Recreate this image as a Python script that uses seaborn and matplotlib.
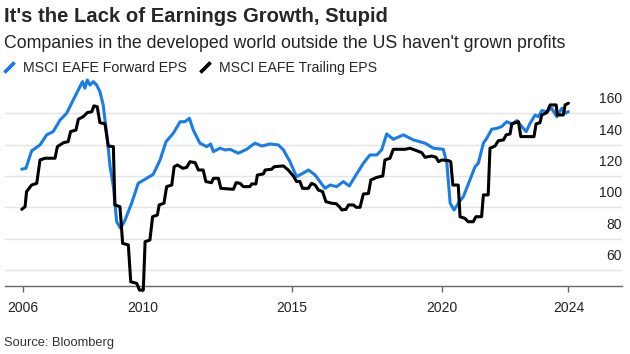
import numpy as np
import pandas as pd
import matplotlib
matplotlib.use('Agg')
import matplotlib.pyplot as plt
import matplotlib.transforms as mtransforms
from matplotlib.lines import Line2D
import seaborn as sns

# values (decimal years, EPS)
fwd_t = [2005.97, 2006.11, 2006.30, 2006.58, 2006.80, 2007.02, 2007.25, 2007.47, 2007.69, 2007.86,
         2008.00, 2008.08, 2008.16, 2008.25, 2008.36, 2008.47, 2008.58, 2008.69, 2008.75, 2008.83,
         2008.92, 2009.03, 2009.14, 2009.27,
         2009.42, 2009.64, 2009.86, 2010.14, 2010.36, 2010.59, 2010.79, 2011.03, 2011.26, 2011.42,
         2011.57, 2011.70, 2011.92, 2012.15, 2012.28, 2012.37, 2012.59, 2012.76, 2012.93, 2013.20,
         2013.48, 2013.76, 2013.99, 2014.26, 2014.54, 2014.71, 2014.93, 2015.15, 2015.32, 2015.55,
         2015.77, 2015.93, 2016.10, 2016.27, 2016.49, 2016.71, 2016.91, 2017.10, 2017.38, 2017.60,
         2017.83, 2017.99, 2018.16, 2018.38, 2018.72, 2019.05, 2019.44, 2019.72, 2020.05, 2020.17,
         2020.28, 2020.41, 2020.59, 2020.72, 2020.94, 2021.11, 2021.22, 2021.39, 2021.50, 2021.67,
         2021.84, 2022.00, 2022.17, 2022.34, 2022.51, 2022.67, 2022.82, 2022.95, 2023.12, 2023.23,
         2023.34, 2023.51, 2023.67, 2023.84, 2024.01, 2024.12, 2024.23]
fwd_v = [124.3, 124.9, 136.0, 139.8, 146.2, 148.3, 155.7, 160.0, 168.5, 174.9,
         180.2, 176.0, 181.2, 178.0, 180.2, 178.0, 173.8, 165.3, 155.7, 143.0,
         126.0, 113.2, 90.8, 86.6,
         91.9, 102.6, 115.3, 118.5, 121.0, 130.2, 141.9, 147.2, 154.6, 154.6,
         156.8, 149.3, 140.9, 138.7, 140.4, 135.5, 137.7, 136.6, 137.0, 134.5,
         137.0, 140.9, 139.1, 140.4, 139.8, 136.6, 129.1, 119.5, 121.3, 123.8,
         120.6, 116.4, 112.1, 114.2, 113.2, 116.4, 113.6, 119.5, 128.1, 133.4,
         133.4, 136.6, 146.8, 143.4, 146.2, 143.0, 140.9, 137.7, 137.0, 128.1,
         102.6, 98.3, 103.6, 106.8, 117.4, 125.9, 128.1, 140.9, 144.0, 149.8,
         150.4, 151.5, 154.6, 153.2, 155.3, 151.5, 148.3, 153.6, 158.9, 157.8,
         161.7, 161.0, 163.2, 157.8, 163.2, 160.0, 161.0]

trl_t = [2005.97, 2006.08, 2006.13, 2006.30, 2006.47, 2006.58, 2006.75, 2007.08, 2007.16, 2007.36,
         2007.52, 2007.60, 2007.78, 2007.86, 2008.02, 2008.16, 2008.31, 2008.38, 2008.49, 2008.58,
         2008.75, 2008.86, 2009.03, 2009.08, 2009.25, 2009.34, 2009.53, 2009.61, 2009.81, 2009.90,
         2010.03, 2010.09, 2010.25, 2010.34, 2010.50, 2010.56, 2010.72, 2010.81, 2010.98, 2011.06,
         2011.17, 2011.35, 2011.48, 2011.59, 2011.76, 2011.87, 2012.03, 2012.12, 2012.31, 2012.37,
         2012.54, 2012.62, 2013.04, 2013.13, 2013.26, 2013.37, 2013.59, 2013.65, 2013.79, 2013.84,
         2014.04, 2014.10, 2014.32, 2014.40, 2014.71, 2014.87, 2015.04, 2015.15, 2015.26, 2015.35,
         2015.54, 2015.65, 2015.77, 2015.88, 2016.02, 2016.13, 2016.32, 2016.47, 2016.58, 2016.66,
         2016.80, 2016.88, 2017.05, 2017.14, 2017.27, 2017.38, 2017.55, 2017.63, 2017.83, 2018.03,
         2018.10, 2018.27, 2018.38, 2018.77, 2018.94, 2019.16, 2019.33, 2019.44, 2019.67, 2019.81,
         2019.89, 2020.00, 2020.22, 2020.30, 2020.37, 2020.55, 2020.61, 2020.77, 2020.88, 2021.05,
         2021.14, 2021.33, 2021.39, 2021.55, 2021.61, 2021.78, 2021.89, 2022.06, 2022.15, 2022.28,
         2022.34, 2022.56, 2022.64, 2023.08, 2023.15, 2023.28, 2023.34, 2023.51, 2023.62, 2023.82,
         2023.86, 2024.06, 2024.12, 2024.23]
trl_v = [98.7, 100.4, 110.0, 114.2, 115.3, 130.2, 131.3, 131.3, 138.7, 141.2,
         141.9, 148.3, 149.3, 156.2, 157.8, 160.4, 161.0, 164.7, 164.2, 154.0,
         153.2, 139.1, 138.7, 101.5, 100.4, 77.0, 76.0, 52.5, 51.5, 47.2,
         47.2, 78.1, 79.1, 94.0, 95.1, 101.5, 102.6, 113.2, 114.2, 125.9,
         127.0, 124.9, 125.5, 129.1, 128.5, 123.8, 123.8, 116.4, 115.7, 118.5,
         118.5, 112.1, 111.5, 115.7, 115.3, 113.2, 113.2, 114.9, 114.9, 120.6,
         121.3, 123.8, 124.3, 125.9, 126.4, 123.8, 120.0, 116.4, 116.5, 112.1,
         112.1, 115.3, 114.2, 111.0, 110.0, 103.6, 102.6, 102.3, 100.4, 98.3,
         98.7, 101.5, 101.5, 100.0, 100.0, 108.5, 108.8, 117.4, 119.1, 120.0,
         130.2, 131.3, 137.0, 137.0, 137.7, 136.1, 134.9, 131.9, 132.7, 131.9,
         129.1, 130.2, 129.8, 129.1, 114.2, 114.2, 94.0, 93.0, 90.8, 90.8,
         94.0, 94.0, 107.9, 107.9, 137.7, 139.1, 142.5, 143.0, 146.2, 146.8,
         153.2, 154.6, 145.1, 145.1, 153.2, 154.0, 158.9, 160.4, 165.3, 165.3,
         158.9, 158.9, 165.3, 166.4]

y_ticks = [60, 80, 100, 120, 140, 160]
x_tick_years = [2006, 2010, 2015, 2020, 2024]
series_names = ['MSCI EAFE Forward EPS', 'MSCI EAFE Trailing EPS']

blue = '#1a7ce8'
black = '#000000'

sns.set_theme(style='white')
plt.rcParams['font.family'] = ['Liberation Sans', 'DejaVu Sans']

fig = plt.figure(figsize=(6.3, 3.54), dpi=100)
ax = fig.add_axes([5 / 630, 68 / 354, 617 / 630, 211 / 354])

fwd = pd.DataFrame({'t': fwd_t, 'eps': fwd_v})
trl = pd.DataFrame({'t': trl_t, 'eps': trl_v})

sns.lineplot(data=fwd, x='t', y='eps', ax=ax, color=blue, lw=2.2,
             sort=False, estimator=None, zorder=3)
sns.lineplot(data=trl, x='t', y='eps', ax=ax, color=black, lw=2.2,
             sort=False, estimator=None, zorder=4, clip_on=False)

ax.set_xlim(2005.41, 2026.02)
ax.set_ylim(49.8, 184.4)
ax.set_xlabel('')
ax.set_ylabel('')

# gridlines with labels sitting above them on the right
ax.set_yticks(y_ticks)
ax.yaxis.grid(True, color='#e4e4e4', lw=1)
ax.tick_params(axis='y', length=0, labelleft=False, labelright=False)
off = mtransforms.ScaledTranslation(0, 0.14, fig.dpi_scale_trans)
for v in y_ticks:
    ax.text(1.0, v, str(v), transform=ax.get_yaxis_transform() + off,
            ha='right', va='center', fontsize=10, color='#222222')

# last tick sits at the final observation
xt = x_tick_years[:-1] + [trl_t[-1]]
ax.set_xticks(xt)
ax.set_xticklabels([str(y) for y in x_tick_years])
ax.tick_params(axis='x', direction='out', length=4.5, width=1, color='#666666',
               labelsize=10, labelcolor='#222222', pad=6, bottom=True)

for s in ['top', 'left', 'right']:
    ax.spines[s].set_visible(False)
ax.spines['bottom'].set_color('#666666')
ax.spines['bottom'].set_linewidth(1)

fig.text(4 / 630, 1 - 17 / 354, "It's the Lack of Earnings Growth, Stupid",
         fontsize=14.6, fontweight='bold', va='center', ha='left')
fig.text(4 / 630, 1 - 44 / 354,
         "Companies in the developed world outside the US haven't grown profits",
         fontsize=12.8, va='center', ha='left', color='#222222')

handles = [Line2D([], [], ls='none', marker=(2, 2, -45), markersize=10,
                  markeredgewidth=2.4, markeredgecolor=c) for c in [blue, black]]
fig.legend(handles, series_names, loc='center left', bbox_to_anchor=(0.0, 1 - 68 / 354),
           ncol=2, frameon=False, fontsize=10.2, handlelength=0.9, handletextpad=0.55,
           columnspacing=0.8, borderaxespad=0, borderpad=0.2)

fig.text(4 / 630, 1 - 343 / 354, 'Source: Bloomberg', fontsize=9.3,
         va='center', ha='left', color='#333333')

fig.savefig('out.png', dpi=100)
